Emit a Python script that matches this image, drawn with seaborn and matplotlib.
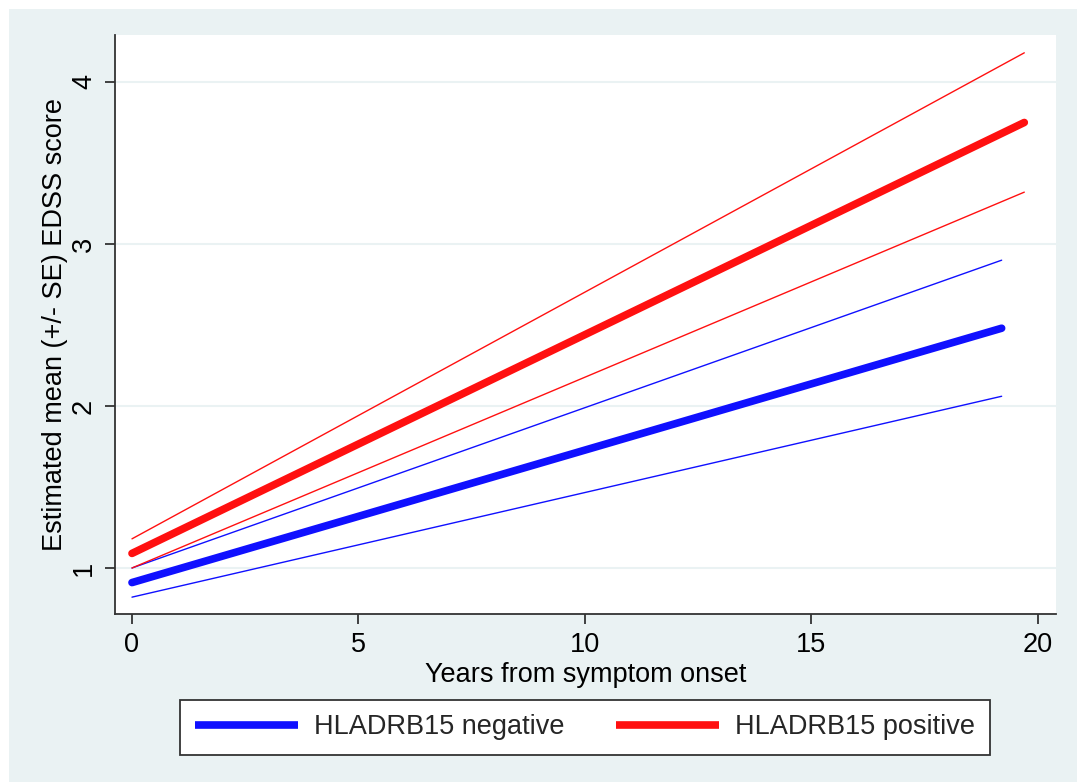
import matplotlib
matplotlib.use("Agg")
import matplotlib.pyplot as plt
from matplotlib.patches import Rectangle
from matplotlib.lines import Line2D
import seaborn as sns
import pandas as pd

sns.set_theme(style="white")
plt.rcParams["font.family"] = ["Liberation Sans", "DejaVu Sans"]

# Estimated EDSS trajectories (mean and +/- SE bounds), endpoints of each fitted line
years_neg = [0, 19.2]
mean_neg = [0.91, 2.48]
upper_neg = [1.00, 2.90]
lower_neg = [0.82, 2.06]

years_pos = [0, 19.7]
mean_pos = [1.09, 3.75]
upper_pos = [1.18, 4.18]
lower_pos = [1.00, 3.32]

group_labels = ["HLADRB15 negative", "HLADRB15 positive"]
x_ticks = [0, 5, 10, 15, 20]
y_ticks = [1, 2, 3, 4]

BLUE = "#1010ff"
RED = "#ff1010"
BG = "#eaf2f3"
FS = 19.5

W, H = 1077, 782
fig = plt.figure(figsize=(W / 100, H / 100), dpi=100, facecolor="white")
fig.patches.append(Rectangle((9 / W, 0), 1 - 9 / W, 1 - 9 / H,
                             transform=fig.transFigure, facecolor=BG,
                             edgecolor="none", zorder=-10))

ax = fig.add_axes([115 / W, (H - 614) / H, (1056 - 115) / W, (614 - 35) / H])
ax.set_facecolor("white")

for xs, ys, col, lw in [
    (years_neg, upper_neg, BLUE, 1.0),
    (years_neg, lower_neg, BLUE, 1.0),
    (years_pos, upper_pos, RED, 1.0),
    (years_pos, lower_pos, RED, 1.0),
    (years_neg, mean_neg, BLUE, 5.5),
    (years_pos, mean_pos, RED, 5.5),
]:
    df = pd.DataFrame({"x": xs, "y": ys})
    sns.lineplot(data=df, x="x", y="y", ax=ax, color=col, linewidth=lw,
                 solid_capstyle="round", zorder=3)

ax.set_xlim(-0.375, 20.4)
ax.set_ylim(0.716, 4.29)
ax.set_xticks(x_ticks)
ax.set_yticks(y_ticks)
ax.set_yticklabels([str(v) for v in y_ticks], rotation=90, va="center")
ax.grid(axis="y", color=BG, linewidth=1.5, zorder=0)
ax.grid(axis="x", visible=False)

for side in ["top", "right"]:
    ax.spines[side].set_visible(False)
for side in ["left", "bottom"]:
    ax.spines[side].set_color("#333333")
    ax.spines[side].set_linewidth(1.3)

ax.tick_params(axis="both", which="major", direction="out", length=7,
               width=1.3, color="#333333", labelsize=FS, labelcolor="black",
               left=True, bottom=True)
ax.tick_params(axis="y", pad=6)
ax.tick_params(axis="x", pad=6)

ax.set_xlabel("Years from symptom onset", fontsize=FS, color="black", labelpad=3)
ax.set_ylabel("Estimated mean (+/- SE) EDSS score", fontsize=FS, color="black",
              labelpad=2)

handles = [Line2D([0], [0], color=BLUE, linewidth=5.5, solid_capstyle="butt"),
           Line2D([0], [0], color=RED, linewidth=5.5, solid_capstyle="butt")]
leg = fig.legend(handles, group_labels, loc="center",
                 bbox_to_anchor=(585 / W, 1 - 727.5 / H), ncol=2,
                 fontsize=FS, frameon=True, fancybox=False, shadow=False,
                 handlelength=3.8, columnspacing=1.9, borderpad=0.55,
                 handletextpad=0.6, borderaxespad=0)
frame = leg.get_frame()
frame.set_edgecolor("#333333")
frame.set_linewidth(1.3)
frame.set_facecolor("white")
frame.set_alpha(1)

fig.savefig("out.png", dpi=100, facecolor=fig.get_facecolor())
